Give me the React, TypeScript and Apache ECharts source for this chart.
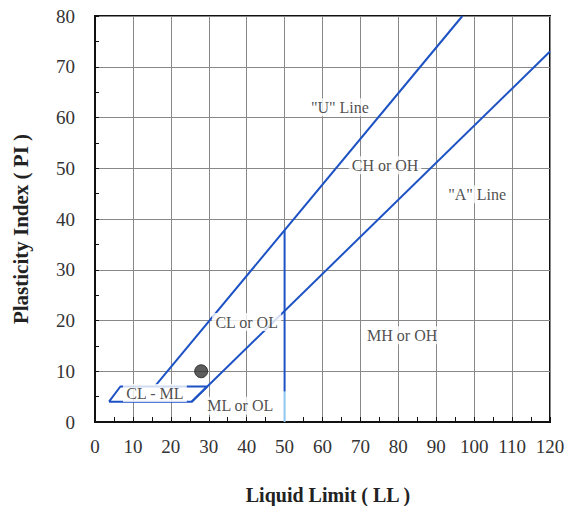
import React, { useEffect, useRef } from "react";
import * as echarts from "echarts";

const uLine: [number, number][] = [[16, 7.2], [96.9, 80]];
const aLine: [number, number][] = [[25.5, 4], [120, 73]];
const clmlBox: [number, number][] = [[3.7, 4], [25.5, 4], [29.6, 7], [6.7, 7], [3.7, 4]];
const llFiftyLower: [number, number][] = [[50, 0], [50, 6]];
const llFiftyUpper: [number, number][] = [[50, 6], [50, 37.8]];
const samplePoint: [number, number][] = [[28, 10]];
const zoneLabels: [number, number, string][] = [
  [64.6, 62, '"U" Line'],
  [76.5, 50.6, "CH or OH"],
  [100.8, 44.9, '"A" Line'],
  [40, 19.7, "CL or OL"],
  [81, 17.1, "MH or OH"],
  [38.3, 3.2, "ML or OL"],
  [15.8, 5.7, "CL - ML"],
];
const xTitle = "Liquid Limit ( LL )";
const yTitle = "Plasticity Index ( PI )";

const SERIF = "'Liberation Serif', 'DejaVu Serif', serif";
const BLUE = "#1d52c4";

export default function App() {
  const ref = useRef<HTMLDivElement>(null);
  useEffect(() => {
    if (!ref.current) return;
    const chart = echarts.init(ref.current, undefined, { renderer: "svg" });
    const lineStyle = { color: BLUE, width: 2 };
    chart.setOption({
      animation: false,
      backgroundColor: "#fff",
      grid: {
        left: 95,
        right: 21,
        top: 16,
        bottom: 84,
        outerBoundsMode: "none",
        containLabel: false,
        show: true,
        borderColor: "#111",
        borderWidth: 2,
        backgroundColor: "transparent",
      },
      graphic: [
        {
          type: "text",
          x: 328,
          y: 495,
          style: {
            text: xTitle,
            fontFamily: SERIF,
            fontWeight: "bold",
            fontSize: 20,
            fill: "#222",
            align: "center",
            verticalAlign: "middle",
          },
        },
        {
          type: "text",
          x: 21,
          y: 229,
          rotation: Math.PI / 2,
          style: {
            text: yTitle,
            fontFamily: SERIF,
            fontWeight: "bold",
            fontSize: 21,
            fill: "#222",
            align: "center",
            verticalAlign: "middle",
          },
        },
      ],
      xAxis: {
        type: "value",
        min: 0,
        max: 120,
        interval: 10,
        axisLine: { show: true, lineStyle: { color: "#111", width: 2 } },
        axisTick: { show: true, inside: true, length: 5, lineStyle: { color: "#111" } },
        minorTick: { show: true, splitNumber: 2, length: 5, lineStyle: { color: "#111" } },
        axisLabel: { fontFamily: SERIF, fontSize: 19, color: "#333", margin: 15 },
        splitLine: { show: true, lineStyle: { color: "#888", width: 1 } },
      },
      yAxis: {
        type: "value",
        min: 0,
        max: 80,
        interval: 10,
        axisLine: { show: true, lineStyle: { color: "#111", width: 2 } },
        axisTick: { show: true, inside: true, length: 4, lineStyle: { color: "#111" } },
        minorTick: { show: true, splitNumber: 2, length: 4, lineStyle: { color: "#111" } },
        axisLabel: { fontFamily: SERIF, fontSize: 19, color: "#333", margin: 20 },
        splitLine: { show: true, lineStyle: { color: "#888", width: 1 } },
      },
      series: [
        { type: "line", data: uLine, symbol: "none", lineStyle, z: 3 },
        { type: "line", data: aLine, symbol: "none", lineStyle, z: 3 },
        { type: "line", data: clmlBox, symbol: "none", lineStyle, z: 3 },
        { type: "line", data: llFiftyUpper, symbol: "none", lineStyle, z: 3 },
        { type: "line", data: llFiftyLower, symbol: "none", lineStyle: { color: "#8fc6ee", width: 2 }, z: 3 },
        {
          type: "scatter",
          data: zoneLabels.map((d) => ({ value: [d[0], d[1]], name: d[2] })),
          symbolSize: 0,
          z: 4,
          label: {
            show: true,
            position: "inside",
            formatter: (p: any) => p.name,
            fontFamily: SERIF,
            fontSize: 16,
            color: "#222",
            backgroundColor: "#fff",
            padding: [1, 3],
          },
        },
        {
          type: "scatter",
          data: samplePoint,
          symbol: "circle",
          symbolSize: 13,
          itemStyle: { color: "#333", borderColor: "#222", borderWidth: 1 },
          z: 5,
        },
      ],
    });
    return () => chart.dispose();
  }, []);
  return <div ref={ref} style={{ position: "fixed", left: 0, top: 0, width: 571, height: 506 }} />;
}
